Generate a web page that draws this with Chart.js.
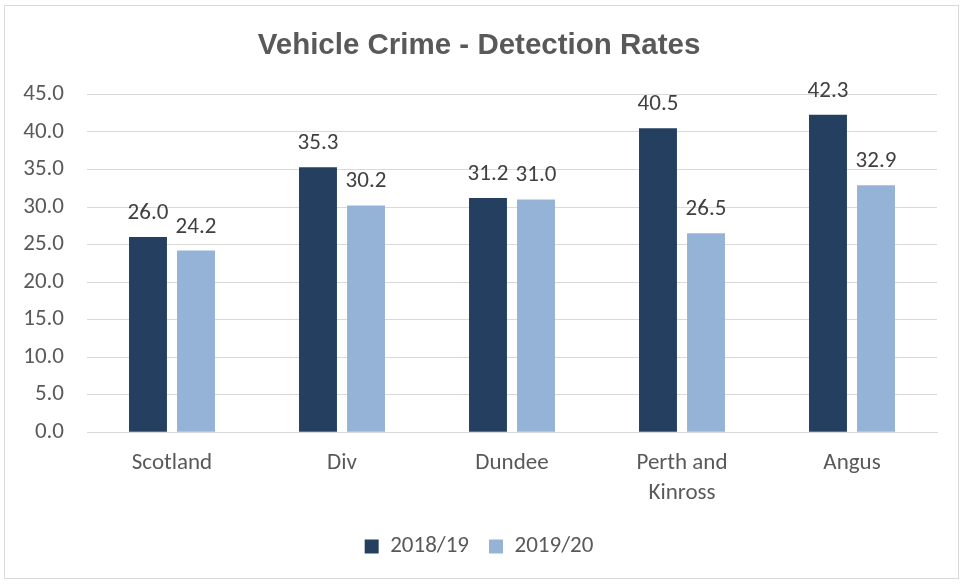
<!DOCTYPE html>
<html><head><meta charset="utf-8">
<script src="https://cdn.jsdelivr.net/npm/chart.js@4"></script>
<style>
html,body{margin:0;padding:0;background:#fff;}
#frame{position:absolute;left:4px;top:5px;width:955px;height:574px;border:1px solid #d9d9d9;box-sizing:border-box;}
#wrap{position:absolute;left:0;top:0;width:965px;height:585px;}
</style></head>
<body>
<div id="frame"></div>
<div id="wrap"><canvas id="c" width="965" height="585"></canvas></div>
<script>
const categories = ['Scotland', 'Div', 'Dundee', ['Perth and', 'Kinross'], 'Angus'];
const series2018 = [26.0, 35.3, 31.2, 40.5, 42.3];
const series2019 = [24.2, 30.2, 31.0, 26.5, 32.9];
const seriesNames = ['2018/19', '2019/20'];
const yTicks = [0, 5, 10, 15, 20, 25, 30, 35, 40, 45];

const FONT = 'Carlito, Calibri, "Open Sans", sans-serif';

const labelPlugin = {
  id: 'valueLabels',
  afterDatasetsDraw(chart) {
    const ctx = chart.ctx;
    ctx.save();
    ctx.font = '23px ' + FONT;
    ctx.fillStyle = '#404040';
    ctx.textAlign = 'center';
    ctx.textBaseline = 'alphabetic';
    chart.data.datasets.forEach((ds, i) => {
      const meta = chart.getDatasetMeta(i);
      meta.data.forEach((bar, j) => {
        ctx.fillText(ds.data[j].toFixed(1), bar.x, bar.y - 18);
      });
    });
    ctx.restore();
  }
};

new Chart(document.getElementById('c'), {
  type: 'bar',
  data: {
    labels: categories,
    datasets: [
      { label: seriesNames[0], data: series2018, backgroundColor: '#243F60', categoryPercentage: 0.565, barPercentage: 0.79 },
      { label: seriesNames[1], data: series2019, backgroundColor: '#95B3D7', categoryPercentage: 0.565, barPercentage: 0.79 }
    ]
  },
  options: {
    responsive: false,
    animation: false,
    devicePixelRatio: 1,
    layout: { padding: { left: 21, right: 28, top: 0, bottom: 17 } },
    plugins: {
      title: {
        display: true,
        text: 'Vehicle Crime - Detection Rates',
        color: '#595959',
        font: { family: '"Liberation Sans", Arial, sans-serif', size: 29.5, weight: 'bold' },
        padding: { top: 28, bottom: 31 }
      },
      legend: {
        position: 'bottom',
        labels: {
          color: '#595959',
          font: { family: FONT, size: 23 },
          boxWidth: 14, boxHeight: 14, padding: 20
        }
      },
      tooltip: { enabled: false }
    },
    scales: {
      x: {
        afterFit(axis) { axis.height = axis.height - 9; },
        grid: { display: false, drawTicks: false },
        border: { display: true, color: '#d9d9d9' },
        ticks: { color: '#595959', font: { family: FONT, size: 23, lineHeight: 1.3 }, padding: 16, maxRotation: 0 }
      },
      y: {
        min: 0, max: 45,
        afterFit(axis) { axis.width = 66; },
        afterBuildTicks(axis) { axis.ticks = yTicks.map(v => ({ value: v })); },
        grid: { color: '#d9d9d9', drawTicks: false },
        border: { display: false },
        ticks: { color: '#595959', font: { family: FONT, size: 23 }, padding: 23,
          callback: v => Number(v).toFixed(1) }
      }
    }
  },
  plugins: [labelPlugin]
});
</script>
</body></html>
